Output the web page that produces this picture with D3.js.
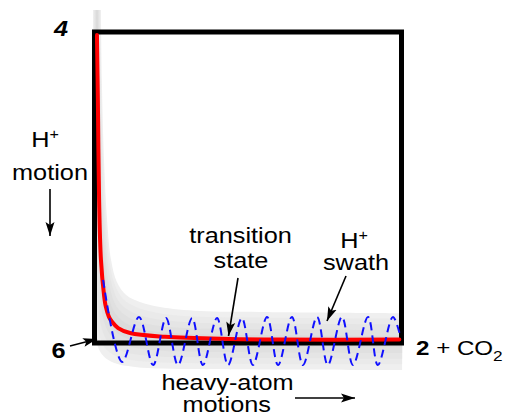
<!DOCTYPE html>
<html>
<head>
<meta charset="utf-8">
<script src="https://cdn.jsdelivr.net/npm/d3@7"></script>
<style>
  body { margin: 0; background: #fff; }
  text { font-family: "Liberation Sans", Arial, Helvetica, sans-serif; fill: #000; }
</style>
</head>
<body>
<div id="chart"></div>
<script>
// reaction-path schematic, axes: heavy-atom motion (x), H+ motion (y), both 0..1

// red minimum-energy path
var redX = [0.008, 0.011, 0.015, 0.021, 0.031, 0.037, 0.047, 0.057, 0.077, 0.116, 0.230, 0.441, 0.604, 0.993];
var redY = [0.990, 0.781, 0.460, 0.267, 0.154, 0.116, 0.084, 0.068, 0.048, 0.032, 0.020, 0.013, 0.011, 0.011];

// H+ swath, outer (upper) and inner (lower) edges, same number of points
var swathUpX = [0.021, 0.024, 0.031, 0.041, 0.054, 0.073, 0.103, 0.148, 0.213, 0.344, 0.539, 1.002];
var swathUpY = [1.071, 0.846, 0.588, 0.395, 0.267, 0.196, 0.154, 0.132, 0.116, 0.103, 0.100, 0.096];
var swathLoX = [-0.005, -0.005, -0.005, -0.005, -0.005, -0.005, 0.002, 0.021, 0.057, 0.132, 0.344, 1.002];
var swathLoY = [1.071, 0.846, 0.588, 0.395, 0.267, 0.138, 0.026, -0.032, -0.061, -0.077, -0.084, -0.087];

// blue dashed H+ oscillation, turning points
var waveX = [0.028, 0.090, 0.145, 0.191, 0.233, 0.272, 0.318, 0.353, 0.399, 0.435, 0.480, 0.516,
             0.562, 0.598, 0.643, 0.679, 0.725, 0.760, 0.806, 0.842, 0.891, 0.923, 0.972, 0.995];
var waveY = [0.203, -0.061, 0.084, -0.071, 0.080, -0.071, 0.080, -0.071, 0.080, -0.071, 0.080, -0.071,
             0.084, -0.071, 0.084, -0.071, 0.084, -0.071, 0.084, -0.071, 0.084, -0.071, 0.084, 0.026];

var swathLevels = [1, 0.8, 0.6, 0.4, 0.2];
var swathColors = ["#efefef", "#eaeaea", "#e5e5e5", "#e0e0e0", "#dbdbdb"];

var width = 509, height = 416;
var sx = 1.15; // text is a bit wide in the original

var svg = d3.select("#chart").append("svg")
    .attr("width", width)
    .attr("height", height);

var x = d3.scaleLinear().domain([0, 1]).range([94.5, 401.5]);
var y = d3.scaleLinear().domain([0, 1]).range([343, 32]);

var line = d3.line()
    .x(function(d) { return x(d[0]); })
    .y(function(d) { return y(d[1]); })
    .curve(d3.curveCatmullRom.alpha(0.5));

// swath layers
var up = d3.zip(swathUpX, swathUpY);
var lo = d3.zip(swathLoX, swathLoY);
swathLevels.forEach(function(t, k) {
  var u = up.map(function(p, i) {
    var m = [(p[0] + lo[i][0]) / 2, (p[1] + lo[i][1]) / 2];
    return [m[0] + t * (p[0] - m[0]), m[1] + t * (p[1] - m[1])];
  });
  var l = lo.map(function(p, i) {
    var m = [(p[0] + up[i][0]) / 2, (p[1] + up[i][1]) / 2];
    return [m[0] + t * (p[0] - m[0]), m[1] + t * (p[1] - m[1])];
  }).reverse();
  svg.append("path")
    .attr("d", line(u) + "L" + line(l).slice(1) + "Z")
    .attr("fill", swathColors[k]);
});

// box
svg.append("rect")
    .attr("x", x(0))
    .attr("y", y(1))
    .attr("width", x(1) - x(0))
    .attr("height", y(0) - y(1))
    .attr("fill", "none")
    .attr("stroke", "#000")
    .attr("stroke-width", 5);

// red path
svg.append("path")
    .attr("d", line(d3.zip(redX, redY)))
    .attr("fill", "none")
    .attr("stroke", "#f00")
    .attr("stroke-width", 4)
    .attr("stroke-linecap", "round");

// blue oscillation
svg.append("path")
    .attr("d", line.curve(d3.curveCatmullRom)(d3.zip(waveX, waveY)))
    .attr("fill", "none")
    .attr("stroke", "#1010ff")
    .attr("stroke-width", 2)
    .attr("stroke-dasharray", "8,5");

// arrows
svg.append("defs").append("marker")
    .attr("id", "head")
    .attr("viewBox", "-14 -5 14 10")
    .attr("refX", 0).attr("refY", 0)
    .attr("markerWidth", 14).attr("markerHeight", 10)
    .attr("markerUnits", "userSpaceOnUse")
    .attr("orient", "auto")
  .append("path")
    .attr("d", "M0,0L-14,-4.5L-11,0L-14,4.5Z")
    .attr("fill", "#000");

var arrows = [
  [50, 189, 50, 236],
  [295, 398, 355, 398],
  [238, 278, 228.5, 336],
  [346, 276, 327, 321],
  [70, 346, 97, 339]
];
arrows.forEach(function(a) {
  svg.append("line")
    .attr("x1", a[0]).attr("y1", a[1])
    .attr("x2", a[2]).attr("y2", a[3])
    .attr("stroke", "#000")
    .attr("stroke-width", 1.6)
    .attr("marker-end", "url(#head)");
});

// labels
function label(tx, ty, anchor) {
  return svg.append("text")
    .attr("transform", "translate(" + tx + "," + ty + ") scale(" + sx + ",1)")
    .attr("text-anchor", anchor || "middle")
    .style("font-size", "22px");
}

var h1 = label(45, 147);
h1.append("tspan").text("H");
h1.append("tspan").text("+").style("font-size", "14px").attr("dy", -8);
label(50, 180).text("motion");

label(240.5, 243).text("transition");
label(241, 268).text("state");

var h2 = label(354, 248);
h2.append("tspan").text("H");
h2.append("tspan").text("+").style("font-size", "14px").attr("dy", -8);
label(356, 270).text("swath");

label(227.5, 390).text("heavy-atom");
label(226.7, 412).text("motions");

label(61, 36).text("4").style("font-weight", "bold").style("font-style", "italic");
label(58.5, 358).text("6").style("font-weight", "bold");

var p = label(416, 355, "start").style("font-size", "21px");
p.append("tspan").text("2").style("font-weight", "bold");
p.append("tspan").text(" + CO");
p.append("tspan").text("2").style("font-size", "15px").attr("dy", 6);
</script>
</body>
</html>
